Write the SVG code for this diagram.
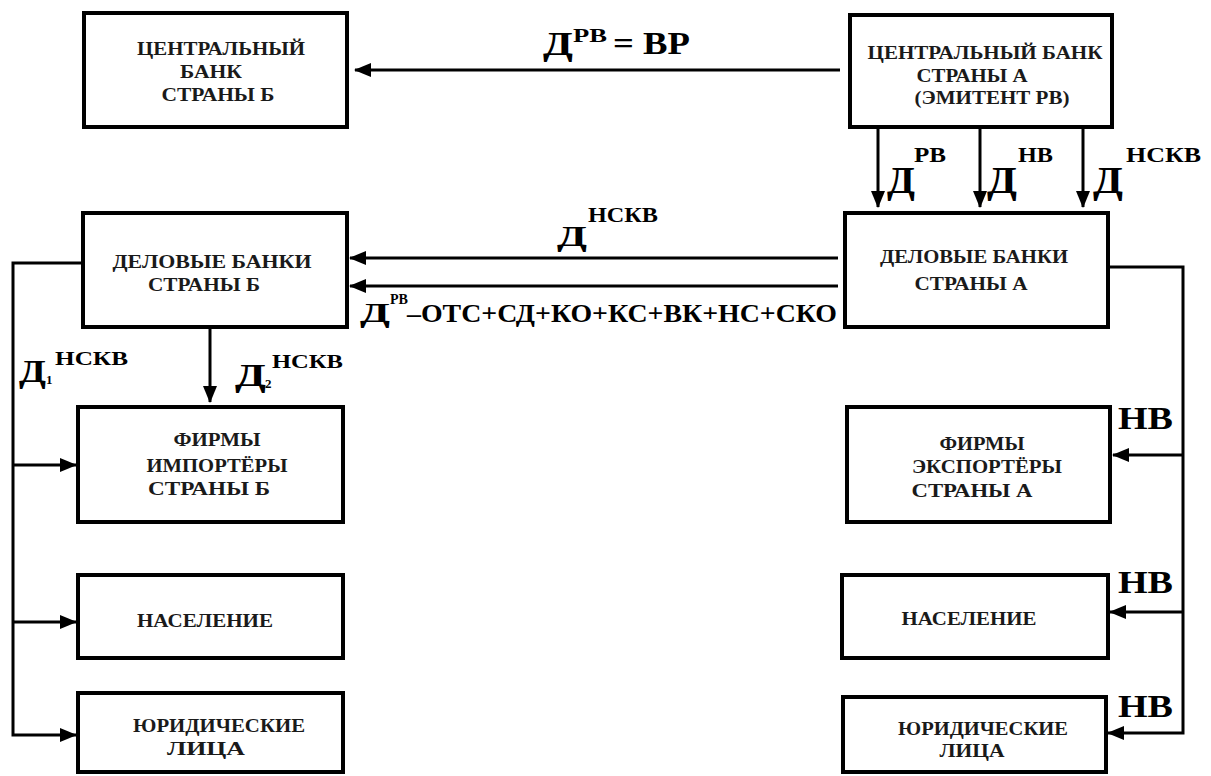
<svg xmlns="http://www.w3.org/2000/svg" width="1211" height="776" viewBox="0 0 1211 776">
<style>
.box{fill:#fff;stroke:#000;stroke-width:4}
.t{font-family:"Liberation Serif","Times New Roman",serif;font-weight:bold;font-size:19px;fill:#1a1a1a;text-anchor:middle}
.l{font-family:"Liberation Serif","Times New Roman",serif;font-weight:bold;fill:#000}
.c{fill:none;stroke:#000;stroke-width:3}
</style>
<defs>
<marker id="ah" markerUnits="userSpaceOnUse" markerWidth="17" markerHeight="14" refX="16" refY="7" orient="auto">
<path d="M0,0 L17,7 L0,14 Z" fill="#000"/>
</marker>
</defs>
<rect width="1211" height="776" fill="#fff"/>

<g id="cb-b"><rect class="box" x="84" y="13" width="263" height="114"/>
<text class="t" x="221" y="55" textLength="168" lengthAdjust="spacingAndGlyphs">ЦЕНТРАЛЬНЫЙ</text>
<text class="t" x="211" y="78" textLength="62" lengthAdjust="spacingAndGlyphs">БАНК</text>
<text class="t" x="218" y="101" textLength="113" lengthAdjust="spacingAndGlyphs">СТРАНЫ Б</text></g>

<g id="cb-a"><rect class="box" x="850" y="15" width="262" height="112"/>
<text class="t" x="985" y="59" textLength="235" lengthAdjust="spacingAndGlyphs">ЦЕНТРАЛЬНЫЙ БАНК</text>
<text class="t" x="972" y="82" textLength="111" lengthAdjust="spacingAndGlyphs">СТРАНЫ А</text>
<text class="t" x="992" y="104" textLength="155" lengthAdjust="spacingAndGlyphs">(ЭМИТЕНТ РВ)</text></g>

<g id="db-b"><rect class="box" x="83" y="213" width="264" height="114"/>
<text class="t" x="212" y="268" textLength="199" lengthAdjust="spacingAndGlyphs">ДЕЛОВЫЕ БАНКИ</text>
<text class="t" x="204" y="291" textLength="112" lengthAdjust="spacingAndGlyphs">СТРАНЫ Б</text></g>

<g id="db-a"><rect class="box" x="845" y="213" width="263" height="114"/>
<text class="t" x="974" y="263" textLength="188" lengthAdjust="spacingAndGlyphs">ДЕЛОВЫЕ БАНКИ</text>
<text class="t" x="971" y="290" textLength="113" lengthAdjust="spacingAndGlyphs">СТРАНЫ А</text></g>

<g id="imp-b"><rect class="box" x="78" y="407" width="265" height="115"/>
<text class="t" x="217" y="446" textLength="87" lengthAdjust="spacingAndGlyphs">ФИРМЫ</text>
<text class="t" x="217" y="472" textLength="141" lengthAdjust="spacingAndGlyphs">ИМПОРТЁРЫ</text>
<text class="t" x="209" y="495" textLength="122" lengthAdjust="spacingAndGlyphs">СТРАНЫ Б</text></g>

<g id="exp-a"><rect class="box" x="847" y="407" width="263" height="115"/>
<text class="t" x="982" y="450" textLength="85" lengthAdjust="spacingAndGlyphs">ФИРМЫ</text>
<text class="t" x="987" y="473" textLength="150" lengthAdjust="spacingAndGlyphs">ЭКСПОРТЁРЫ</text>
<text class="t" x="972" y="497" textLength="121" lengthAdjust="spacingAndGlyphs">СТРАНЫ А</text></g>

<g id="pop-b"><rect class="box" x="78" y="575" width="265" height="83"/>
<text class="t" x="205" y="627" textLength="136" lengthAdjust="spacingAndGlyphs">НАСЕЛЕНИЕ</text></g>

<g id="pop-a"><rect class="box" x="842" y="575" width="266" height="83"/>
<text class="t" x="969" y="625" textLength="135" lengthAdjust="spacingAndGlyphs">НАСЕЛЕНИЕ</text></g>

<g id="jur-b"><rect class="box" x="78" y="693" width="265" height="79"/>
<text class="t" x="219" y="732" textLength="172" lengthAdjust="spacingAndGlyphs">ЮРИДИЧЕСКИЕ</text>
<text class="t" x="206" y="755" textLength="78" lengthAdjust="spacingAndGlyphs">ЛИЦА</text></g>

<g id="jur-a"><rect class="box" x="843" y="697" width="263" height="75"/>
<text class="t" x="983" y="735" textLength="170" lengthAdjust="spacingAndGlyphs">ЮРИДИЧЕСКИЕ</text>
<text class="t" x="972" y="757" textLength="65" lengthAdjust="spacingAndGlyphs">ЛИЦА</text></g>

<g id="connectors">
<line class="c" x1="840" y1="70" x2="355" y2="70" marker-end="url(#ah)"/>
<line class="c" x1="878" y1="129" x2="878" y2="207" marker-end="url(#ah)"/>
<line class="c" x1="980" y1="129" x2="980" y2="207" marker-end="url(#ah)"/>
<line class="c" x1="1083" y1="129" x2="1083" y2="207" marker-end="url(#ah)"/>
<line class="c" x1="838" y1="258" x2="350" y2="258" marker-end="url(#ah)"/>
<line class="c" x1="838" y1="286" x2="350" y2="286" marker-end="url(#ah)"/>
<line class="c" x1="210" y1="327" x2="210" y2="402" marker-end="url(#ah)"/>
<polyline class="c" points="83,263 13,263 13,735 76,735" marker-end="url(#ah)"/>
<line class="c" x1="13" y1="465" x2="76" y2="465" marker-end="url(#ah)"/>
<line class="c" x1="13" y1="622" x2="76" y2="622" marker-end="url(#ah)"/>
<polyline class="c" points="1108,267 1183,267 1183,733 1108,733" marker-end="url(#ah)"/>
<line class="c" x1="1183" y1="455" x2="1113" y2="455" marker-end="url(#ah)"/>
<line class="c" x1="1183" y1="612" x2="1110" y2="612" marker-end="url(#ah)"/>
</g>

<g id="labels">
<text class="l" x="543" y="55" font-size="34" textLength="30" lengthAdjust="spacingAndGlyphs">Д</text>
<text class="l" x="573" y="42" font-size="19" textLength="34" lengthAdjust="spacingAndGlyphs">РВ</text>
<text class="l" x="613" y="54" font-size="32" textLength="77" lengthAdjust="spacingAndGlyphs">= ВР</text>

<text class="l" x="887" y="193" font-size="38" textLength="28" lengthAdjust="spacingAndGlyphs">Д</text>
<text class="l" x="914" y="162" font-size="20" textLength="32" lengthAdjust="spacingAndGlyphs">РВ</text>
<text class="l" x="987" y="193" font-size="38" textLength="30" lengthAdjust="spacingAndGlyphs">Д</text>
<text class="l" x="1018" y="162" font-size="20" textLength="35" lengthAdjust="spacingAndGlyphs">НВ</text>
<text class="l" x="1093" y="193" font-size="38" textLength="30" lengthAdjust="spacingAndGlyphs">Д</text>
<text class="l" x="1126" y="162" font-size="20" textLength="75" lengthAdjust="spacingAndGlyphs">НСКВ</text>

<text class="l" x="557" y="246" font-size="30" textLength="30" lengthAdjust="spacingAndGlyphs">Д</text>
<text class="l" x="588" y="222" font-size="22" textLength="70" lengthAdjust="spacingAndGlyphs">НСКВ</text>

<text class="l" x="360" y="322" font-size="28" textLength="30" lengthAdjust="spacingAndGlyphs">Д</text>
<text class="l" x="390" y="304" font-size="14" textLength="18" lengthAdjust="spacingAndGlyphs">РВ</text>
<text class="l" x="407" y="322" font-size="25" textLength="430" lengthAdjust="spacingAndGlyphs">–ОТС+СД+КО+КС+ВК+НС+СКО</text>

<text class="l" x="19" y="382" font-size="32" textLength="27" lengthAdjust="spacingAndGlyphs">Д</text>
<text class="l" x="46" y="384" font-size="13">1</text>
<text class="l" x="55" y="365" font-size="19" textLength="73" lengthAdjust="spacingAndGlyphs">НСКВ</text>
<text class="l" x="235" y="386" font-size="32" textLength="31" lengthAdjust="spacingAndGlyphs">Д</text>
<text class="l" x="265" y="388" font-size="13">2</text>
<text class="l" x="272" y="368" font-size="19" textLength="71" lengthAdjust="spacingAndGlyphs">НСКВ</text>

<text class="l" x="1118" y="429" font-size="31" textLength="55" lengthAdjust="spacingAndGlyphs">НВ</text>
<text class="l" x="1118" y="593" font-size="31" textLength="55" lengthAdjust="spacingAndGlyphs">НВ</text>
<text class="l" x="1118" y="717" font-size="31" textLength="55" lengthAdjust="spacingAndGlyphs">НВ</text>
</g>
</svg>
